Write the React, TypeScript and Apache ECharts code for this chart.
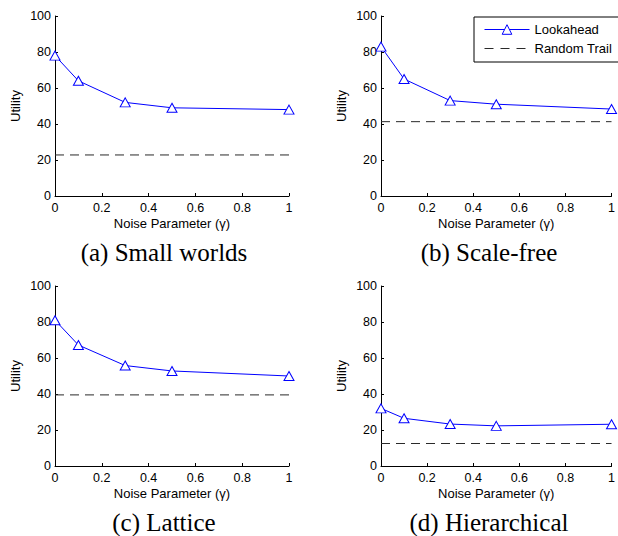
import React, { useEffect, useRef } from "react";
import * as echarts from "echarts";

const noiseLevels = [0, 0.1, 0.3, 0.5, 1];
const xTicks = [0, 0.2, 0.4, 0.6, 0.8, 1];
const yTicks = [0, 20, 40, 60, 80, 100];
const panelTitles = ["(a) Small worlds", "(b) Scale-free", "(c) Lattice", "(d) Hierarchical"];
const lookaheadSmallWorlds = [78, 64, 52, 49, 48];
const lookaheadScaleFree = [83, 65, 53, 51, 48.3];
const lookaheadLattice = [81, 67.2, 55.8, 52.8, 50];
const lookaheadHierarchical = [32, 26.5, 23.3, 22.3, 23.2];
const randomTrailValues = [22.8, 41.3, 39.5, 12.5];
const seriesNames = ["Lookahead", "Random Trail"];

const lookaheadAll = [lookaheadSmallWorlds, lookaheadScaleFree, lookaheadLattice, lookaheadHierarchical];

const SANS = "'Liberation Sans', Arial, Helvetica, sans-serif";
const SERIF = "'Liberation Serif', 'Times New Roman', serif";

const gridPos = [
  { left: 55, top: 16 },
  { left: 381, top: 16 },
  { left: 55, top: 286 },
  { left: 381, top: 286 },
];
const GW = 234;
const GH = 180;
const captionPos = [
  { x: 164, y: 252 },
  { x: 489, y: 252 },
  { x: 164, y: 522 },
  { x: 489, y: 522 },
];

export default function App() {
  const ref = useRef<HTMLDivElement>(null);
  useEffect(() => {
    if (!ref.current) return;
    const chart = echarts.init(ref.current, undefined, { renderer: "svg" });
    const grids = gridPos.map((g) => ({ left: g.left, top: g.top, width: GW, height: GH, containLabel: false }));
    const xAxes = gridPos.map((_, i) => ({
      type: "value",
      gridIndex: i,
      min: 0,
      max: 1,
      interval: 0.2,
      name: "Noise Parameter (\u03b3)",
      nameLocation: "middle",
      nameGap: 21,
      nameTextStyle: { fontFamily: SANS, fontSize: 13, color: "#000", verticalAlign: "top" },
      axisLine: { show: true, lineStyle: { color: "#000", width: 1 } },
      axisTick: { show: true, inside: true, length: 3, lineStyle: { color: "#000" } },
      splitLine: { show: false },
      axisLabel: {
        fontFamily: SANS,
        fontSize: 12.5,
        color: "#000",
        margin: 5,
        formatter: (v: number) => (xTicks.includes(Math.round(v * 10) / 10) ? String(Math.round(v * 10) / 10) : ""),
      },
    }));
    const yAxes = gridPos.map((_, i) => ({
      type: "value",
      gridIndex: i,
      min: 0,
      max: 100,
      interval: 20,
      name: "Utility",
      nameLocation: "middle",
      nameGap: 33,
      nameRotate: 90,
      nameTextStyle: { fontFamily: SANS, fontSize: 13, color: "#000" },
      axisLine: { show: true, lineStyle: { color: "#000", width: 1 } },
      axisTick: { show: true, inside: true, length: 3, lineStyle: { color: "#000" } },
      splitLine: { show: false },
      axisLabel: {
        fontFamily: SANS,
        fontSize: 12.5,
        color: "#000",
        margin: 4,
        formatter: (v: number) => (yTicks.includes(v) ? String(v) : ""),
      },
    }));
    const series: any[] = [];
    lookaheadAll.forEach((vals, i) => {
      series.push({
        name: seriesNames[0],
        type: "line",
        xAxisIndex: i,
        yAxisIndex: i,
        data: noiseLevels.map((x, j) => [x, vals[j]]),
        symbol: "triangle",
        symbolSize: [10, 9],
        lineStyle: { color: "#0000ff", width: 1 },
        itemStyle: { color: "#ffffff", borderColor: "#0000ff", borderWidth: 1 },
        z: 3,
      });
      series.push({
        name: seriesNames[1],
        type: "line",
        xAxisIndex: i,
        yAxisIndex: i,
        data: [
          [0, randomTrailValues[i]],
          [1, randomTrailValues[i]],
        ],
        symbol: "none",
        lineStyle: { color: "#2a2a2a", width: 1, type: [9, 6] },
        itemStyle: { color: "#2a2a2a" },
        z: 2,
      });
    });
    chart.setOption({
      animation: false,
      backgroundColor: "#ffffff",
      grid: grids,
      xAxis: xAxes,
      yAxis: yAxes,
      series,
      legend: {
        orient: "vertical",
        left: 474,
        top: 17,
        width: 160,
        data: [
          {
            name: seriesNames[0],
            lineStyle: { width: 1, color: "#0000ff" },
            itemStyle: { color: "#ffffff", borderColor: "#0000ff", borderWidth: 1 },
          },
          {
            name: seriesNames[1],
            lineStyle: { width: 1, color: "#2a2a2a", type: [9, 7] },
            itemStyle: { color: "transparent", borderColor: "transparent", borderWidth: 0, opacity: 0 },
          },
        ],
        itemWidth: 45,
        itemHeight: 12,
        itemGap: 6,
        padding: [6, 40, 7, 10],
        borderColor: "#000",
        borderWidth: 1,
        backgroundColor: "#fff",
        textStyle: { fontFamily: SANS, fontSize: 13, color: "#000" },
        selectedMode: false,
      },
      graphic: panelTitles.map((t, i) => ({
        type: "text",
        x: captionPos[i].x,
        y: captionPos[i].y,
        style: {
          text: t,
          fontFamily: SERIF,
          fontSize: 25,
          fill: "#000",
          textAlign: "center",
          textVerticalAlign: "middle",
        },
      })),
    });
    return () => chart.dispose();
  }, []);
  return (
    <div
      ref={ref}
      style={{ position: "absolute", left: 0, top: 0, width: 618, height: 536 }}
    />
  );
}
